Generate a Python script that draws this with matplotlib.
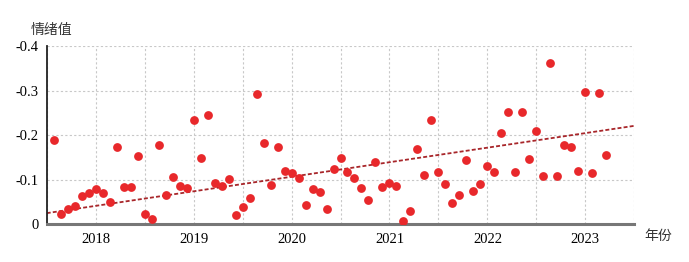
import numpy as np
import matplotlib
matplotlib.use("Agg")
import matplotlib.pyplot as plt

# Data: period index (roughly 14 observations per year) and sentiment values
period = np.arange(1, 81)
sentiment = [
    -0.189, -0.024, -0.035, -0.040, -0.063, -0.070, -0.080, -0.070, -0.049, -0.174,
    -0.084, -0.084, -0.153, -0.022, -0.012, -0.177, -0.065, -0.107, -0.087, -0.082,
    -0.233, -0.148, -0.246, -0.093, -0.087, -0.102, -0.020, -0.038, -0.058, -0.292,
    -0.182, -0.088, -0.174, -0.120, -0.114, -0.103, -0.043, -0.080, -0.072, -0.034,
    -0.123, -0.149, -0.118, -0.103, -0.081, -0.055, -0.139, -0.084, -0.093, -0.087,
    -0.008, -0.029, -0.170, -0.111, -0.234, -0.117, -0.090, -0.047, -0.066, -0.144,
    -0.074, -0.091, -0.131, -0.117, -0.206, -0.253, -0.117, -0.251, -0.146, -0.209,
    -0.108, -0.363, -0.108, -0.179, -0.174, -0.120, -0.298, -0.116, -0.295, -0.155,
]
# trend line values at the two ends of the period axis
trend_period = [0, 84]
trend_value = [-0.025, -0.221]

year_labels = ["2018", "2019", "2020", "2021", "2022", "2023"]
year_positions = [7, 21, 35, 49, 63, 77]
half_year_grid = [0, 14, 28, 42, 56, 70, 84]
y_ticks = [0, -0.1, -0.2, -0.3, -0.4]
y_labels = ["0", "-0.1", "-0.2", "-0.3", "-0.4"]

serif = ["Liberation Serif", "DejaVu Serif"]
cjk = ["Noto Sans CJK SC", "DejaVu Sans"]

fig = plt.figure(figsize=(6.89, 2.62), dpi=100)
ax = fig.add_axes([0.0678, 0.144, 0.8528, 0.680])

ax.set_xlim(0, 84)
ax.set_ylim(0, -0.4)

grid_kw = dict(color="#c8c8c8", linestyle=(0, (2, 2)), linewidth=0.8)
ax.set_xticks(year_positions)
ax.set_xticks(half_year_grid, minor=True)
ax.set_yticks(y_ticks)
ax.grid(True, which="both", axis="x", **grid_kw)
ax.grid(True, which="major", axis="y", **grid_kw)
ax.set_axisbelow(True)

ax.scatter(period, sentiment, s=40, color="#e8282b", zorder=3, linewidths=0)

ax.plot(trend_period, trend_value, color="#a8262a", linestyle=(0, (2.2, 1.2)),
        linewidth=1.3, zorder=2)

ax.set_xticklabels(year_labels, family=serif, fontsize=10.5)
ax.set_yticklabels(y_labels, family=serif, fontsize=10.5)
ax.tick_params(axis="both", which="both", length=0)
ax.tick_params(axis="x", pad=6)
ax.tick_params(axis="y", pad=6)

for s in ["top", "right"]:
    ax.spines[s].set_visible(False)
ax.spines["left"].set_color("#222222")
ax.spines["left"].set_linewidth(1.3)
ax.spines["bottom"].set_color("#777777")
ax.spines["bottom"].set_linewidth(2.2)

fig.text(0.044, 0.885, "情绪值", family=cjk, fontsize=10, color="#333333", va="center", ha="left")
fig.text(0.935, 0.098, "年份", family=cjk, fontsize=10, color="#333333", va="center", ha="left")

fig.savefig("out.png", dpi=100)
